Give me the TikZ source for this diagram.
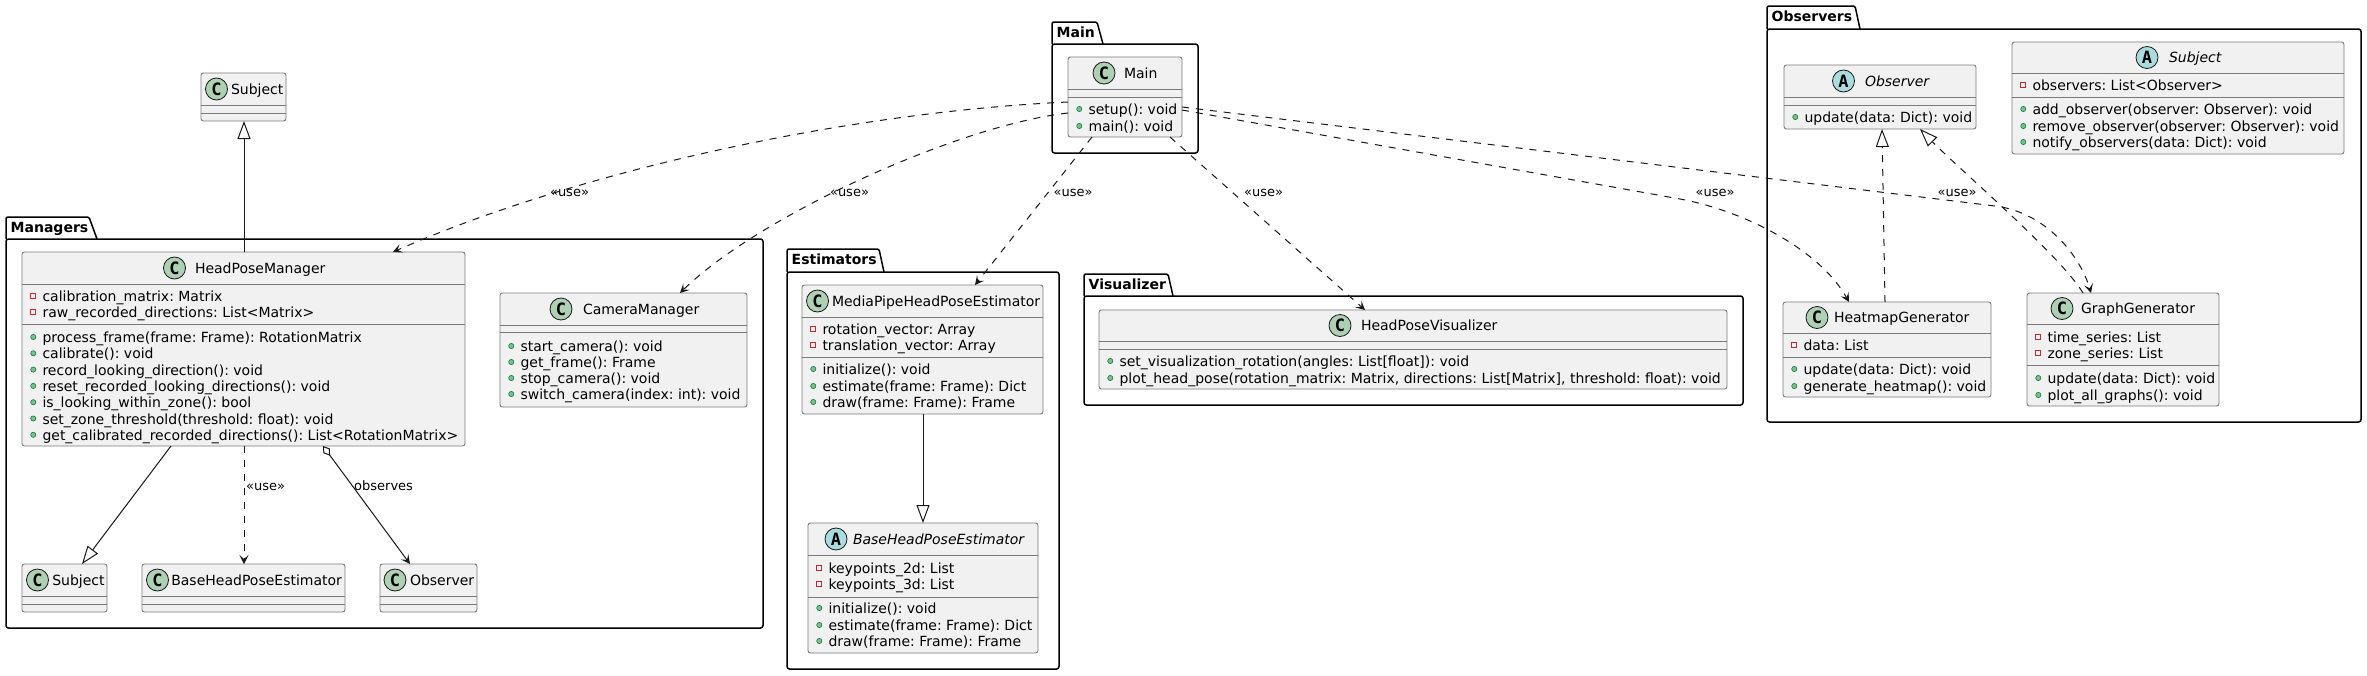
\documentclass[tikz,border=0pt]{standalone}
\usepackage{fontspec}
\setmainfont{DejaVu Sans}[BoldFont={DejaVu Sans Bold},ItalicFont={DejaVu Sans Oblique}]
\newfontfamily\circfont{DejaVu Sans Mono Bold}
\usetikzlibrary{arrows.meta,fit}
\frenchspacing
\definecolor{clsfill}{HTML}{F1F1F1}
\definecolor{clsborder}{HTML}{7A7A7A}
\definecolor{cgreen}{HTML}{ADD1B2}
\definecolor{ablue}{HTML}{A9DCDF}
\definecolor{privred}{HTML}{C82930}
\definecolor{pubfill}{HTML}{84BE84}
\definecolor{pubdraw}{HTML}{038048}
\definecolor{lnk}{HTML}{181818}
\newcounter{tn}
% class box: name, x1, y1, x2, y2, header line, separator line
\newcommand\clsbox[7]{%
  \node[clsrect, fit={(#2,#3) (#4,#5)}] (#1) {};
  \draw[clsline] (#2,#6) -- (#4,#6);
  \draw[clsline] (#2,#7) -- (#4,#7);}
% title: prefix, letter, fill, cx, cy, text x, text
\newcommand\clstitle[7]{%
  \node[circ, fill=#3] (#1c) at (#4,#5) {#2};
  \node[txt] (#1t) at (#6,{#5+5}) {#7};}
\newcommand\privm[3]{%
  \draw[privicon] ({#1+8.5},{#2-2.6}) rectangle ({#1+13.7},{#2+2.6});
  \stepcounter{tn}\node[txt] (m\thetn) at ({#1+20.5},{#2+5.5}) {#3};}
\newcommand\pubm[3]{%
  \draw[pubicon] ({#1+11.3},#2) circle[radius=2.6pt];
  \stepcounter{tn}\node[txt] (m\thetn) at ({#1+20.5},{#2+5.5}) {#3};}
% package: name, x1, tabtop, tab top right, tab end, body top, x2, bottom, label
\newcommand\pkg[9]{%
  \draw[pkgline, rounded corners=2.5pt] (#2,#6) rectangle (#7,#8);
  \draw[pkgline, rounded corners=1.5pt] (#2,#6) -- (#2,#3) -- (#4,#3) -- (#5,#6);
  \node[pkglabel] (#1) at ({#2+4.5},{#3+15}) {#9};}
\begin{document}
\begin{tikzpicture}[x=1pt,y=-1pt,
  clsrect/.style={draw=clsborder, fill=clsfill, line width=0.9pt, rounded corners=2.5pt, inner sep=0pt, outer sep=0pt},
  clsline/.style={draw=clsborder, line width=0.9pt},
  circ/.style={circle, draw=lnk, line width=0.8pt, minimum size=22pt, inner sep=0pt, font=\circfont\fontsize{17pt}{17pt}\selectfont},
  txt/.style={anchor=base west, inner sep=0pt, outer sep=0pt, font=\frenchspacing\fontsize{14pt}{16pt}\selectfont},
  privicon/.style={draw=privred, line width=0.9pt},
  pubicon/.style={draw=pubdraw, fill=pubfill, line width=0.6pt},
  pkgline/.style={draw=black, line width=1.5pt},
  pkglabel/.style={anchor=base west, inner sep=0pt, font=\bfseries\fontsize{14pt}{16pt}\selectfont},
  lbl/.style={anchor=base, inner sep=0pt, font=\fontsize{13pt}{15pt}\selectfont},
  lblw/.style={anchor=base west, inner sep=0pt, font=\fontsize{13pt}{15pt}\selectfont},
  conn/.style={draw=lnk, line width=1pt},
  usedash/.style={conn, dash pattern=on 7pt off 7pt},
  usetip/.style={-{Stealth[length=9pt,width=9pt,inset=4pt]}},
  inhtip/.style={-{Triangle[length=18pt,width=13pt,fill=white]}}
]
\fill[white] (0,0) rectangle (2367,675);
\useasboundingbox (0,0) rectangle (2367,675);

% ---------- packages ----------
\pkg{pkManagers}{6}{217}{89}{97}{239}{763}{628}{Managers}
\pkg{pkEstimators}{787}{249}{879}{884}{272}{1059}{669}{Estimators}
\pkg{pkVisualizer}{1084}{274}{1168}{1173}{296}{1743}{405}{Visualizer}
\pkg{pkMain}{1052}{22}{1097}{1103}{44}{1198}{153}{Main}
\pkg{pkObservers}{1767}{6}{1855}{1860}{29}{2361}{422}{Observers}

% ---------- classes ----------
% Subject (top, outside)
\clsbox{subjT}{201}{73}{286}{121}{105}{113}
\clstitle{subjT}{C}{cgreen}{216.5}{89}{231}{Subject}

% HeadPoseManager
\clsbox{hpm}{22}{252}{465}{446}{284}{324}
\clstitle{hpm}{C}{cgreen}{174.5}{268}{195}{HeadPoseManager}
\privm{22}{296}{calibration\_matrix: Matrix}
\privm{22}{312}{raw\_recorded\_directions: List<Matrix>}
\pubm{22}{337}{process\_frame(frame: Frame): RotationMatrix}
\pubm{22}{353.3}{calibrate(): void}
\pubm{22}{369.6}{record\_looking\_direction(): void}
\pubm{22}{385.9}{reset\_recorded\_looking\_directions(): void}
\pubm{22}{402.2}{is\_looking\_within\_zone(): bool}
\pubm{22}{418.5}{set\_zone\_threshold(threshold: float): void}
\pubm{22}{434.8}{get\_calibrated\_recorded\_directions(): List<RotationMatrix>}

% CameraManager
\clsbox{cam}{500}{293}{747}{407}{325}{332}
\clstitle{cam}{C}{cgreen}{561}{309}{583}{CameraManager}
\pubm{500}{346}{start\_camera(): void}
\pubm{500}{362}{get\_frame(): Frame}
\pubm{500}{378}{stop\_camera(): void}
\pubm{500}{394}{switch\_camera(index: int): void}

% Subject, BaseHeadPoseEstimator, Observer inside Managers
\clsbox{subjB}{22}{564}{107}{612}{596}{604}
\clstitle{subjB}{C}{cgreen}{37.5}{580}{52.3}{Subject}
\clsbox{bhpeM}{142}{564}{345}{612}{596}{604}
\clstitle{bhpeM}{C}{cgreen}{157.5}{580}{171.3}{BaseHeadPoseEstimator}
\clsbox{obsM}{380}{564}{477}{612}{596}{604}
\clstitle{obsM}{C}{cgreen}{395}{580}{410}{Observer}

% Main
\clsbox{main}{1068}{57}{1182}{137}{89}{97}
\clstitle{main}{C}{cgreen}{1104}{73}{1124}{Main}
\pubm{1068}{109}{setup(): void}
\pubm{1068}{126}{main(): void}

% MediaPipeHeadPoseEstimator
\clsbox{mph}{802}{285}{1043}{414}{317}{357}
\clstitle{mph}{C}{cgreen}{817.5}{301}{832}{MediaPipeHeadPoseEstimator}
\privm{802}{329}{rotation\_vector: Array}
\privm{802}{345}{translation\_vector: Array}
\pubm{802}{369}{initialize(): void}
\pubm{802}{386}{estimate(frame: Frame): Dict}
\pubm{802}{402}{draw(frame: Frame): Frame}

% BaseHeadPoseEstimator (abstract)
\clsbox{bhpeE}{808}{523}{1038}{653}{555}{597}
\clstitle{bhpeE}{A}{ablue}{836}{539}{853}{\itshape BaseHeadPoseEstimator}
\privm{808}{568}{keypoints\_2d: List}
\privm{808}{584}{keypoints\_3d: List}
\pubm{808}{608}{initialize(): void}
\pubm{808}{625}{estimate(frame: Frame): Dict}
\pubm{808}{641}{draw(frame: Frame): Frame}

% HeadPoseVisualizer
\clsbox{hpv}{1099}{310}{1727}{389}{341}{349}
\clstitle{hpv}{C}{cgreen}{1340}{325.5}{1361}{HeadPoseVisualizer}
\pubm{1099}{361}{set\_visualization\_rotation(angles: List[float]): void}
\pubm{1099}{378}{plot\_head\_pose(rotation\_matrix: Matrix, directions: List[Matrix], threshold: float): void}

% Observer (abstract)
\clsbox{obs}{1784}{65}{1976}{129}{97}{105}
\clstitle{obs}{A}{ablue}{1843.5}{81}{1865}{\itshape Observer}
\pubm{1784}{117}{update(data: Dict): void}

% Subject (abstract)
\clsbox{subjO}{2012}{42}{2344}{154}{73}{97}
\clstitle{subjO}{A}{ablue}{2147}{57.5}{2169}{\itshape Subject}
\privm{2012}{85}{observers: List<Observer>}
\pubm{2012}{109}{add\_observer(observer: Observer): void}
\pubm{2012}{126}{remove\_observer(observer: Observer): void}
\pubm{2012}{142}{notify\_observers(data: Dict): void}

% HeatmapGenerator
\clsbox{heat}{1783}{302}{1991}{397}{333}{357}
\clstitle{heat}{C}{cgreen}{1817}{317.5}{1834}{HeatmapGenerator}
\privm{1783}{345}{data: List}
\pubm{1783}{369}{update(data: Dict): void}
\pubm{1783}{386}{generate\_heatmap(): void}

% GraphGenerator
\clsbox{graph}{2027}{293}{2219}{406}{324}{365}
\clstitle{graph}{C}{cgreen}{2062}{308.5}{2081}{GraphGenerator}
\privm{2027}{337}{time\_series: List}
\privm{2027}{353}{zone\_series: List}
\pubm{2027}{378}{update(data: Dict): void}
\pubm{2027}{395}{plot\_all\_graphs(): void}

% ---------- connectors ----------
% Main uses
\draw[usedash, usetip] (main.west |- 0,102) .. controls (850,112) and (580,170) .. (hpm.north -| 393,0);
\node[lbl] (lu1) at (569.5,196.5) {«use»};
\draw[usedash, usetip] (main.west |- 0,113) .. controls (960,125) and (760,215) .. (cam.north -| 680,0);
\node[lbl] (lu2) at (849.5,196.5) {«use»};
\draw[usedash, usetip] (main.south -| 1092,0) -- (mph.north -| 975,0);
\node[lbl] (lu3) at (1073,196.5) {«use»};
\draw[usedash, usetip] (main.south -| 1170,0) -- (hpv.north -| 1365,0);
\node[lbl] (lu4) at (1263.5,196.5) {«use»};
\coordinate (bendH) at (1680,199);
\draw[usedash, usetip] (main.east |- 0,110) -- (bendH) .. controls (1745,211) and (1820,250) .. (heat.north -| 1849,0);
\node[lbl] (lu5) at (1715,196.5) {«use»};
\coordinate (bendG) at (1995,206);
\draw[usedash, usetip] (main.east |- 0,107) -- (bendG) .. controls (2045,212) and (2080,255) .. (graph.north -| 2091,0);
\node[lbl] (lu6) at (1957,196.5) {«use»};

% realizations of Observer
\draw[usedash, inhtip] (heat.north -| 1885,0) -- (obs.south -| 1882,0);
\draw[usedash, inhtip] (graph.north -| 2083,0) .. controls (2060,255) and (1960,170) .. (obs.south -| 1920,0);

% inheritance
\draw[conn, inhtip] (hpm.north -| 244,0) -- (subjT.south -| 244,0);
\draw[conn, inhtip] (hpm.south -| 171,0) -- (subjB.north -| 82,0);
\draw[conn, inhtip] (mph.south -| 923,0) -- (bhpeE.north -| 923,0);

% HPM uses BaseHeadPoseEstimator
\draw[usedash, usetip] (hpm.south -| 244,0) -- (bhpeM.north -| 244,0);
\node[lblw] (lu7) at (246,490) {«use»};

% HPM observes Observer (aggregation)
\draw[conn, {Diamond[length=12pt,width=8pt,fill=white]}-{Stealth[length=9pt,width=9pt,inset=4pt]}] (hpm.south -| 323,0) -- (obsM.north -| 410,0);
\node[lblw] (lobs) at (354,490) {observes};
\end{tikzpicture}
\end{document}
